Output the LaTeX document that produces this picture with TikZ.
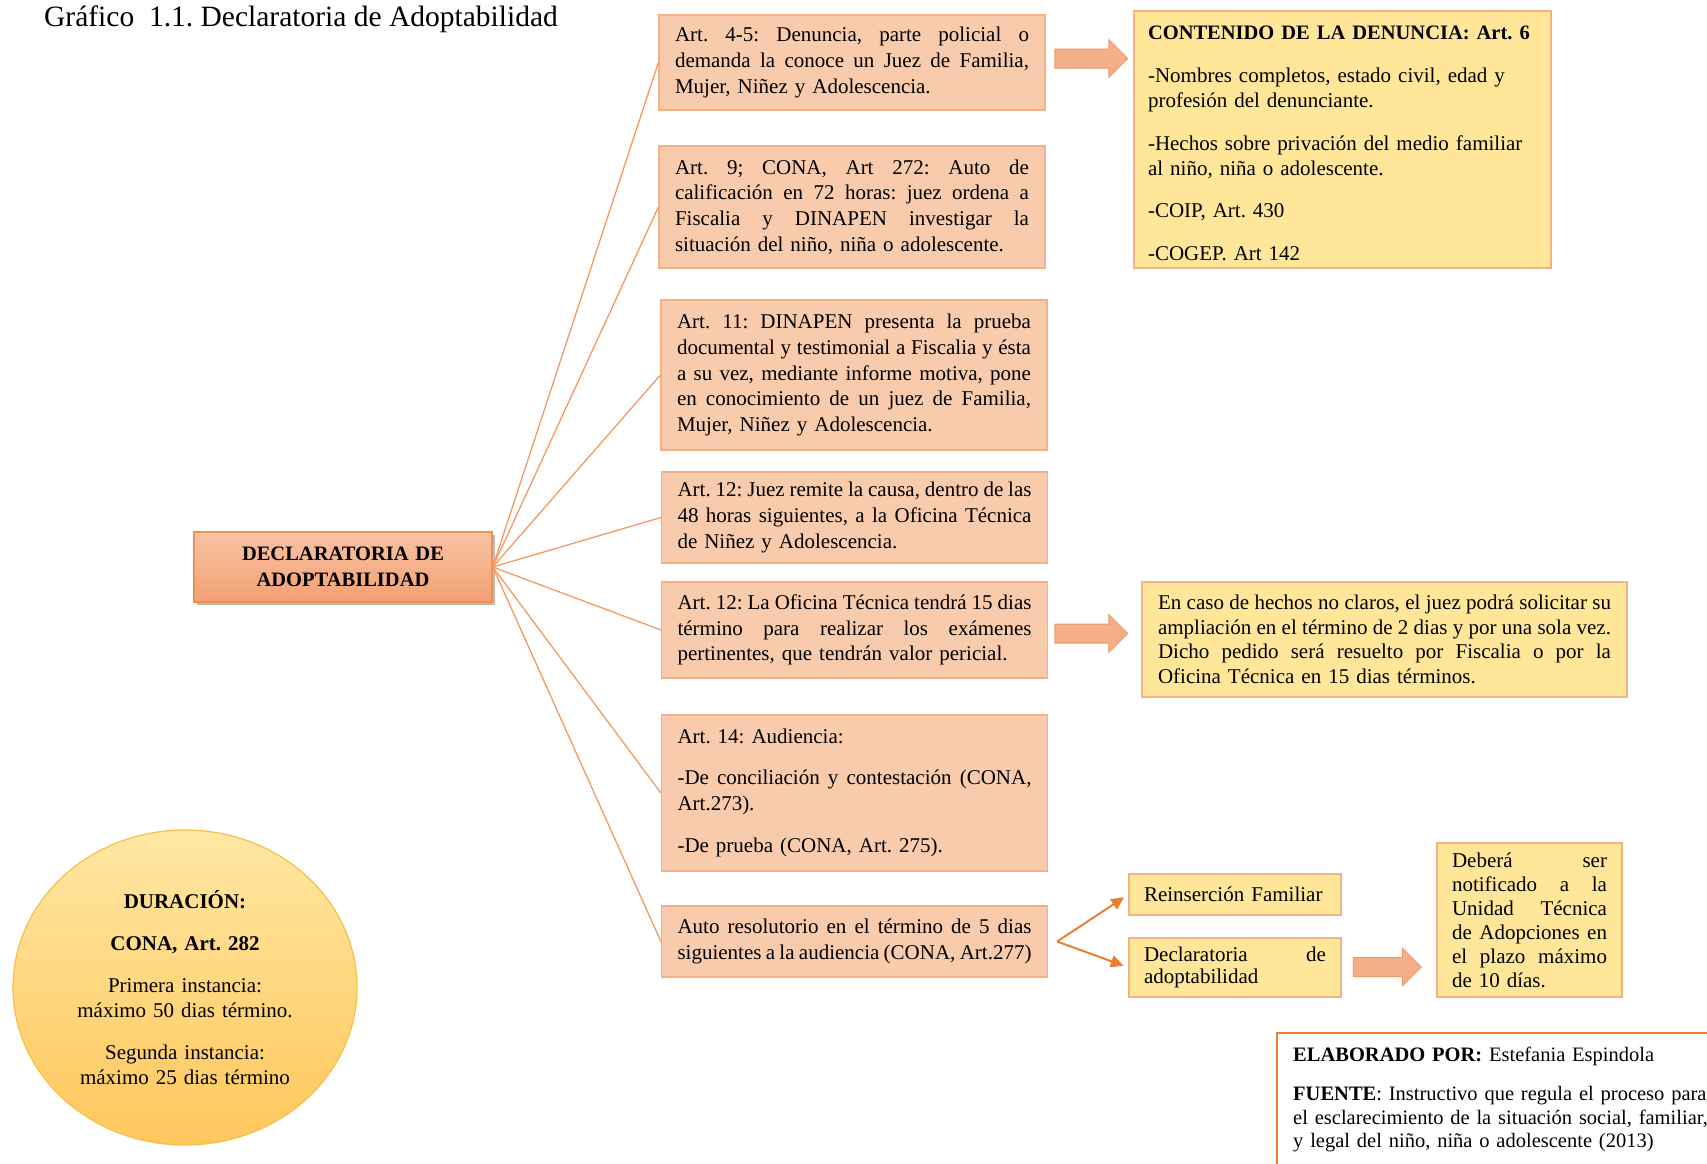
\documentclass[tikz,border=0pt]{standalone}
\usepackage{fontspec}
\setmainfont{Liberation Serif}
\usetikzlibrary{shapes.geometric,shapes.arrows,arrows.meta,shadows,calc}
\definecolor{boxor}{HTML}{F8CBAD}
\definecolor{boxorline}{HTML}{F4B183}
\definecolor{boxye}{HTML}{FFE699}
\definecolor{linkor}{HTML}{F19A62}
\definecolor{darkor}{HTML}{ED7D31}
\definecolor{arrfill}{HTML}{F4AE88}
\definecolor{arrline}{HTML}{EE9A70}
\definecolor{elline}{HTML}{F6BF4A}
\definecolor{eltop}{HTML}{FFE7A3}
\definecolor{elbot}{HTML}{FFC75C}
\definecolor{ctop}{HTML}{F8C3A3}
\definecolor{cbot}{HTML}{F3A073}
\setlength{\parindent}{0pt}
\setlength{\parskip}{0pt}
\frenchspacing
\newcommand{\jl}[2][354pt]{\leavevmode\hbox to #1{\spaceskip=0.25em plus 1fil minus 0.14em\relax #2}}
\tikzset{
  basebox/.style={draw=boxorline, line width=1.2pt, inner ysep=0pt, align=left,
    font=\fontsize{21}{25.6}\selectfont},
  obox/.style={basebox, fill=boxor, minimum width=386pt, text width=354pt, inner xsep=16pt},
  ybox/.style={basebox, fill=boxye},
  link/.style={draw=linkor, line width=1.3pt},
  branch/.style={draw=darkor, line width=2pt, -{Triangle[length=13pt,width=12pt]}, shorten >=5pt},
  barrow/.style={single arrow, draw=arrline, fill=arrfill, line width=1pt, inner xsep=0pt,
    inner ysep=9pt, minimum width=37pt, single arrow head extend=9.5pt},
}
\begin{document}
\begin{tikzpicture}[x=1pt,y=-1pt]
\useasboundingbox (0,0) rectangle (1707,1163);

\node[anchor=base west, inner sep=0pt, font=\fontsize{29.5}{31}\selectfont] (title) at (44,26)
  {Gráfico\ \ 1.1. Declaratoria de Adoptabilidad};

% central node
\node[draw=darkor!85, line width=1.5pt, top color=ctop, bottom color=cbot,
  drop shadow={shadow xshift=3pt, shadow yshift=-3pt, fill=black!45, opacity=.6},
  minimum width=298pt, minimum height=70pt, text width=268pt, align=center,
  font=\fontsize{20.5}{26}\selectfont\bfseries] (c) at (343,567)
  {DECLARATORIA DE\\ADOPTABILIDAD};

% orange boxes
\node[obox, minimum height=95pt] (b1) at (852,62.5)
  {\jl{Art. 4-5: Denuncia, parte policial o}\\
   \jl{demanda la conoce un Juez de Familia,}\\
   Mujer, Niñez y Adolescencia.};
\node[obox, minimum height=122pt] (b2) at (852,207)
  {\jl{Art. 9; CONA, Art 272: Auto de}\\
   \jl{calificación en 72 horas: juez ordena a}\\
   \jl{Fiscalia y DINAPEN investigar la}\\
   situación del niño, niña o adolescente.};
\node[obox, minimum height=150pt] (b3) at (854,375)
  {\jl{Art. 11: DINAPEN presenta la prueba}\\
   \jl{documental y testimonial a Fiscalia y ésta}\\
   \jl{a su vez, mediante informe motiva, pone}\\
   \jl{en conocimiento de un juez de Familia,}\\
   Mujer, Niñez y Adolescencia.};
\node[obox, minimum height=91pt] (b4) at (854.5,517.5)
  {\jl{Art. 12: Juez remite la causa, dentro de las}\\
   \jl{48 horas siguientes, a la Oficina Técnica}\\
   de Niñez y Adolescencia.};
\node[obox, minimum height=96pt] (b5) at (854.5,630)
  {\jl{Art. 12: La Oficina Técnica tendrá 15 dias}\\
   \jl{término para realizar los exámenes}\\
   pertinentes, que tendrán valor pericial.};
\node[obox, minimum height=156pt] (b6) at (854.5,793)
  {Art. 14: Audiencia:\\[15.5pt]
   \jl{-De conciliación y contestación (CONA,}\\
   Art.273).\\[17pt]
   -De prueba (CONA, Art. 275).};
\node[obox, minimum height=71pt] (b7) at (854.5,941.5)
  {\jl{Auto resolutorio en el término de 5 dias}\\
   \jl{siguientes a la audiencia (CONA, Art.277)}};

\foreach \b in {b1,b2,b3,b4,b5,b6,b7}
  \draw[link] (c.east) -- (\b.west);

% yellow boxes
\node[ybox, minimum width=417pt, text width=389pt, inner xsep=14pt, minimum height=257pt] (y1) at (1342.5,139.5)
  {\rule{0pt}{21pt}{\fontsize{20.5}{25.6}\selectfont\bfseries CONTENIDO DE LA DENUNCIA: Art. 6}\\[17pt]
   -Nombres completos, estado civil, edad y\\
   profesión del denunciante.\\[17pt]
   -Hechos sobre privación del medio familiar\\
   al niño, niña o adolescente.\\[16pt]
   -COIP, Art. 430\\[17pt]
   -COGEP. Art 142};
\node[ybox, minimum width=485pt, text width=453pt, inner xsep=16pt, minimum height=115pt,
  font=\fontsize{21}{24.5}\selectfont] (y2) at (1384.5,639.5)
  {\jl[453pt]{En caso de hechos no claros, el juez podrá solicitar su}\\
   \jl[453pt]{ampliación en el término de 2 dias y por una sola vez.}\\
   \jl[453pt]{Dicho pedido será resuelto por Fiscalia o por la}\\
   Oficina Técnica en 15 dias términos.};
\node[ybox, minimum width=212pt, text width=182pt, inner xsep=15pt, minimum height=41pt] (reins) at (1235,894.5)
  {Reinserción Familiar};
\node[ybox, minimum width=212pt, text width=182pt, inner xsep=15pt, minimum height=59pt,
  font=\fontsize{21}{22}\selectfont] (decl) at (1235,967.5)
  {\jl[182pt]{Declaratoria de}\\ adoptabilidad};
\node[ybox, minimum width=185pt, text width=155pt, inner xsep=15pt, minimum height=154pt,
  font=\fontsize{21}{24}\selectfont] (deb) at (1529.5,920)
  {\jl[155pt]{Deberá ser}\\
   \jl[155pt]{notificado a la}\\
   \jl[155pt]{Unidad Técnica}\\
   \jl[155pt]{de Adopciones en}\\
   \jl[155pt]{el plazo máximo}\\
   de 10 días.};

% block arrows
\node[barrow, minimum height=73pt] (a1) at (1086.5,58.5) {};
\node[barrow, minimum height=73pt] (a2) at (1086.5,633.5) {};
\node[barrow, minimum height=68pt] (a3) at (1382.5,967) {};

% branch arrows
\coordinate (fork) at ($(b7.east)+(9,0)$);
\draw[branch] (fork) -- (reins.west);
\draw[branch] (fork) -- (decl.west);

% duration ellipse
\node[ellipse, draw=elline, line width=1.2pt, top color=eltop, bottom color=elbot,
  minimum width=344pt, minimum height=315pt, inner sep=0pt, text width=220pt, align=center,
  font=\fontsize{21}{25.5}\selectfont] (dur) at (185,987.5)
  {\textbf{DURACIÓN:}\\[16.5pt]
   \textbf{CONA, Art. 282}\\[16.5pt]
   Primera instancia:\\
   máximo 50 dias término.\\[16pt]
   Segunda instancia:\\
   máximo 25 dias término};

% footer
\node[anchor=north west, inner xsep=16pt, inner ysep=14pt, text width=440pt, align=left,
  font=\fontsize{20.5}{23.5}\selectfont] (foot) at (1277,1033)
  {\textbf{ELABORADO POR:} Estefania Espindola\\[15.5pt]
   \textbf{FUENTE}: Instructivo que regula el proceso para\\
   el esclarecimiento de la situación social, familiar,\\
   y legal del niño, niña o adolescente (2013)};
\begin{scope}
  \clip (0,0) rectangle (1707,1163);
  \draw[darkor, line width=2pt] (foot.north west) rectangle ++(500,200);
\end{scope}
\end{tikzpicture}
\end{document}
